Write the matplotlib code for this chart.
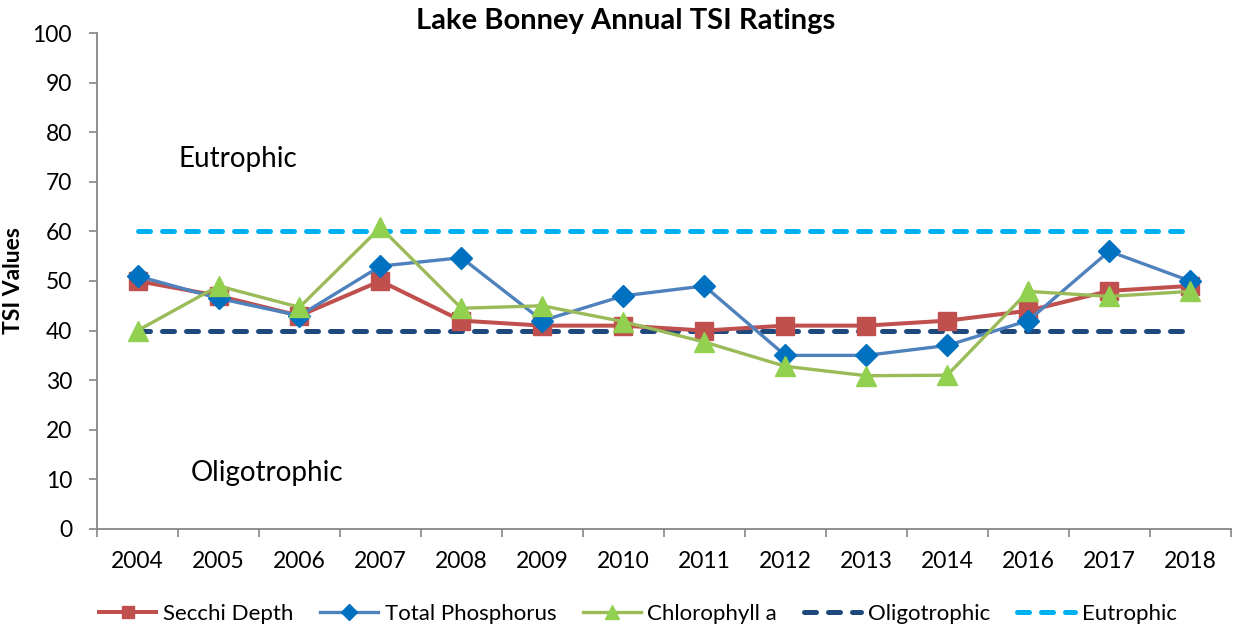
import matplotlib
matplotlib.use("Agg")
import matplotlib.pyplot as plt
import numpy as np

years = ["2004", "2005", "2006", "2007", "2008", "2009", "2010", "2011",
         "2012", "2013", "2014", "2016", "2017", "2018"]
secchi = [50, 47, 43, 50, 42, 41, 41, 40, 41, 41, 42, 44, 48, 49]
phosphorus = [51, 46.5, 43, 53, 54.7, 42, 47, 49, 35, 35, 37, 42, 56, 50]
chlorophyll = [40, 49, 44.7, 60.8, 44.5, 45, 41.8, 37.7, 32.8, 30.9, 31, 47.9, 46.9, 47.9]
oligo_level = 40
eutro_level = 60

plt.rcParams['font.family'] = ['Lato', 'DejaVu Sans']

fig = plt.figure(figsize=(12.38, 6.31), dpi=100)
ax = fig.add_axes([0.0784, 0.1617, 0.9156, 0.786])

x = np.arange(len(years))
ax.plot(x, secchi, color='#C0504D', lw=2.9, marker='s', markersize=13,
        markerfacecolor='#C0504D', markeredgecolor='#C0504D', label='Secchi Depth', zorder=3)
ax.plot(x, phosphorus, color='#4F81BD', lw=2.4, marker='D', markersize=11,
        markerfacecolor='#0070C0', markeredgecolor='#0070C0', label='Total Phosphorus', zorder=4)
ax.plot(x, chlorophyll, color='#9BBB59', lw=2.4, marker='^', markersize=15,
        markerfacecolor='#92D050', markeredgecolor='#92D050', label='Chlorophyll a', zorder=5)
ax.plot(x, [oligo_level] * len(x), color='#1F497D', lw=3.6, dashes=(2.4, 2.4),
        dash_capstyle='round', label='Oligotrophic', zorder=2)
ax.plot(x, [eutro_level] * len(x), color='#00B0F0', lw=3.6, dashes=(2.4, 2.4),
        dash_capstyle='round', label='Eutrophic', zorder=2)

ax.set_xlim(-0.5, len(years) - 0.5)
ax.set_ylim(0, 100)
ax.set_yticks(np.arange(0, 101, 10))
ax.set_xticks(x)
ax.set_xticklabels(years)
ax.set_xticks(np.arange(-0.5, len(years), 1), minor=True)
ax.tick_params(axis='x', which='major', length=0, pad=16, labelsize=16.5)
ax.tick_params(axis='x', which='minor', length=6, color='#868686', width=1.2)
ax.tick_params(axis='y', length=6, color='#868686', width=1.2, labelsize=16.5, pad=12)

for s in ['top', 'right']:
    ax.spines[s].set_visible(False)
for s in ['left', 'bottom']:
    ax.spines[s].set_color('#868686')
    ax.spines[s].set_linewidth(1.3)

ax.set_ylabel('TSI Values', fontsize=16.5, fontweight='bold', labelpad=6)
fig.text(0.505, 0.967, 'Lake Bonney Annual TSI Ratings', ha='center', va='center',
         fontsize=21, fontweight='bold')

ax.text(0.5, 74.5, 'Eutrophic', ha='left', va='center', fontsize=20)
ax.text(0.66, 11.3, 'Oligotrophic', ha='left', va='center', fontsize=20)

leg = fig.legend(loc='center', bbox_to_anchor=(0.515, 0.027), ncol=5, frameon=False,
                 fontsize=16, handlelength=2.6, columnspacing=1.2, handletextpad=0.3,
                 markerscale=0.7)

fig.savefig('out.png', dpi=100)
